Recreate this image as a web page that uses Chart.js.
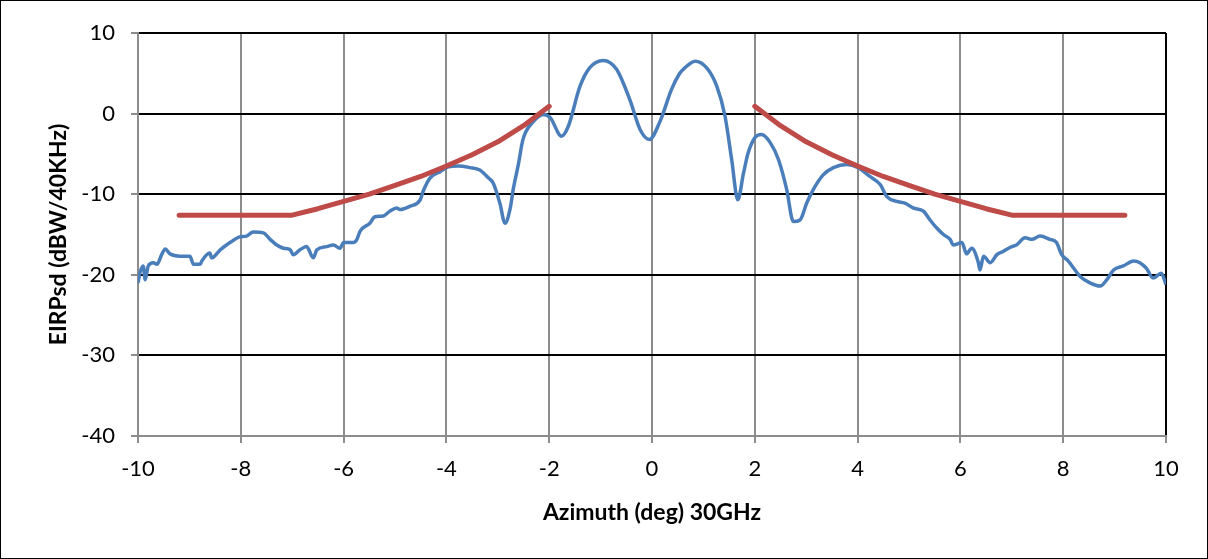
<!DOCTYPE html>
<html>
<head>
<meta charset="utf-8">
<script src="https://cdn.jsdelivr.net/npm/chart.js@4/dist/chart.umd.min.js"></script>
<style>
  html, body { margin: 0; padding: 0; background: #fff; }
  #wrap { width: 1208px; height: 559px; box-sizing: border-box; border: 1px solid #000; }
  #chart { display: block; }
</style>
</head>
<body>
<div id="wrap"><canvas id="chart" width="1206" height="557"></canvas></div>
<script>
// measured antenna pattern (azimuth in deg, EIRPsd in dBW/40KHz)
const measAz = [
  -10.0, -9.96, -9.9, -9.86, -9.8, -9.7, -9.63, -9.54, -9.47, -9.38,
  -9.18, -8.99, -8.92, -8.79, -8.76, -8.6, -8.57, -8.4, -8.21, -8.02,
  -7.89, -7.76, -7.56, -7.43, -7.3, -7.17, -7.04, -6.98, -6.85, -6.72,
  -6.59, -6.52, -6.33, -6.2, -6.07, -6.0, -5.81, -5.74, -5.68, -5.49,
  -5.39, -5.23, -5.1, -4.97, -4.9, -4.71, -4.51, -4.45, -4.32, -4.12,
  -3.96, -3.77, -3.54, -3.35, -3.18, -3.09, -2.96, -2.86, -2.76, -2.7,
  -2.6, -2.51, -2.31, -2.11, -1.98, -1.76, -1.63, -1.4, -1.21,
  -0.95, -0.69, -0.43, -0.23, -0.05, 0.16, 0.38, 0.54, 0.61, 0.84,
  1.06, 1.26, 1.42, 1.55, 1.67, 1.78, 1.87, 2.0, 2.13, 2.3,
  2.46, 2.62, 2.75, 2.88, 3.01, 3.14, 3.33, 3.53, 3.79, 4.01,
  4.24, 4.44, 4.57, 4.76, 4.92, 5.08, 5.28, 5.41, 5.54, 5.67,
  5.8, 5.86, 6.03, 6.12, 6.22, 6.35, 6.38, 6.45, 6.58, 6.71,
  6.83, 7.0, 7.09, 7.26, 7.39, 7.55, 7.74, 7.87, 7.97, 8.1,
  8.23, 8.33, 8.52, 8.72, 8.85, 8.98, 9.17, 9.37, 9.49, 9.62,
  9.75, 9.91, 10.0
];
const measEirp = [
  -21.0, -19.7, -18.9, -20.6, -18.9, -18.5, -18.7, -17.5, -16.8, -17.4,
  -17.7, -17.7, -18.7, -18.7, -18.3, -17.3, -17.9, -16.9, -16.0, -15.3,
  -15.2, -14.7, -14.8, -15.6, -16.3, -16.7, -16.9, -17.5, -16.9, -16.5,
  -17.9, -16.9, -16.5, -16.3, -16.7, -16.0, -16.0, -15.6, -14.6, -13.6,
  -12.8, -12.7, -12.1, -11.7, -11.9, -11.5, -10.7, -9.6, -8.0, -7.2,
  -6.6, -6.5, -6.7, -7.0, -8.0, -8.6, -11.1, -13.6, -11.8, -9.4,
  -6.3, -3.2, -1.0, -0.1, -0.5, -2.8, -1.6, 3.4, 5.7,
  6.6, 5.5, 1.7, -2.0, -3.2, -0.9, 3.0, 5.0, 5.5, 6.5,
  5.7, 3.4, -0.3, -5.7, -10.7, -7.4, -4.9, -3.0, -2.6, -3.6,
  -5.7, -9.4, -13.4, -13.2, -11.1, -9.4, -7.6, -6.7, -6.3, -6.7,
  -7.8, -8.8, -10.3, -10.9, -11.1, -11.7, -12.1, -13.2, -14.2, -15.0,
  -15.6, -16.3, -16.0, -17.4, -16.7, -18.5, -19.4, -17.7, -18.5, -17.5,
  -17.1, -16.5, -16.3, -15.4, -15.6, -15.2, -15.6, -16.0, -17.5, -18.3,
  -19.4, -20.2, -21.0, -21.4, -20.6, -19.4, -18.9, -18.3, -18.5, -19.2,
  -20.4, -19.8, -21.2
];

// regulatory mask, left and right branches
const maskLeftAz = [-9.2, -7, -6.5, -6, -5.5, -5, -4.5, -4, -3.5, -3, -2.5, -2];
const maskLeftEirp = [-12.6, -12.6, -11.8, -10.9, -10.0, -8.9, -7.8, -6.5, -5.1, -3.5, -1.5, 0.9];
const maskRightAz = [2, 2.5, 3, 3.5, 4, 4.5, 5, 5.5, 6, 6.5, 7, 9.2];
const maskRightEirp = [0.9, -1.5, -3.5, -5.1, -6.5, -7.8, -8.9, -10.0, -10.9, -11.8, -12.6, -12.6];

const xTicks = [-10, -8, -6, -4, -2, 0, 2, 4, 6, 8, 10];
const yTicks = [10, 0, -10, -20, -30, -40];

const toPoints = (xs, ys) => xs.map((x, i) => ({ x: x, y: ys[i] }));

const FONT = 'Lato, "Open Sans", sans-serif';
const GRAY = '#8c8c8c';

function maskDataset(label, xs, ys) {
    return {
        label: label,
        data: toPoints(xs, ys),
        showLine: true,
        borderColor: '#be4b48',
        borderWidth: 5,
        borderCapStyle: 'round',
        borderJoinStyle: 'round',
        pointRadius: 0,
        tension: 0,
        order: 1
    };
}

new Chart(document.getElementById('chart'), {
    type: 'scatter',
    data: {
        datasets: [
            {
                label: 'Measured',
                data: toPoints(measAz, measEirp),
                showLine: true,
                borderColor: '#4a7ebb',
                borderWidth: 3.5,
                borderJoinStyle: 'round',
                pointRadius: 0,
                cubicInterpolationMode: 'monotone',
                order: 2
            },
            maskDataset('Mask', maskLeftAz, maskLeftEirp),
            maskDataset('Mask (right)', maskRightAz, maskRightEirp)
        ]
    },
    options: {
        responsive: false,
        animation: false,
        layout: { padding: { left: 40, top: 32, right: 41, bottom: 28 } },
        plugins: {
            legend: { display: false },
            tooltip: { enabled: false }
        },
        scales: {
            x: {
                type: 'linear',
                min: -10,
                max: 10,
                afterBuildTicks: (scale) => { scale.ticks = xTicks.map(v => ({ value: v })); },
                afterFit: (scale) => { scale.height = 94; },
                grid: {
                    color: (ctx) => ctx.tick && ctx.tick.value === 10 ? '#000' : GRAY,
                    tickColor: GRAY,
                    lineWidth: 2,
                    tickLength: 7
                },
                border: { color: GRAY, width: 2 },
                ticks: {
                    color: '#000',
                    padding: 13,
                    font: { family: FONT, size: 22 }
                },
                title: {
                    display: true,
                    text: 'Azimuth (deg) 30GHz',
                    color: '#000',
                    font: { family: FONT, size: 23, weight: 'bold' }
                }
            },
            y: {
                type: 'linear',
                min: -40,
                max: 10,
                afterBuildTicks: (scale) => { scale.ticks = yTicks.map(v => ({ value: v })); },
                afterFit: (scale) => { scale.width = 97; },
                grid: {
                    color: '#000',
                    tickColor: GRAY,
                    lineWidth: 2,
                    tickLength: 7
                },
                border: { color: GRAY, width: 2 },
                ticks: {
                    color: '#000',
                    padding: 16,
                    font: { family: FONT, size: 22 }
                },
                title: {
                    display: true,
                    text: 'EIRPsd (dBW/40KHz)',
                    color: '#000',
                    font: { family: FONT, size: 23, weight: 'bold' }
                }
            }
        }
    }
});
</script>
</body>
</html>
